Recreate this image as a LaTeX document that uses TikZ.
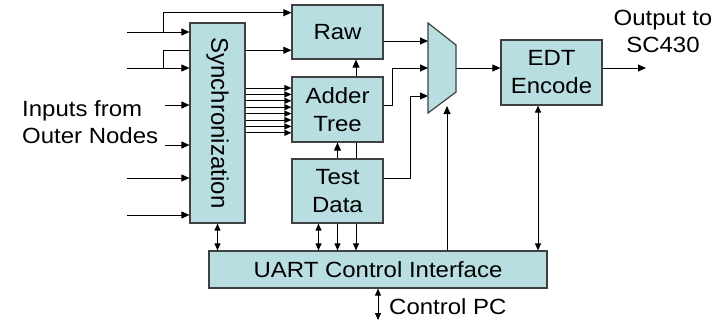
\documentclass[tikz,border=0pt]{standalone}
\usepackage{graphicx}
\usepackage{fontspec}
\setmainfont{Liberation Sans}[FakeStretch=1.09]
\newfontfamily\vertfont{Liberation Sans}
\usepackage{tikz}
\usetikzlibrary{calc}
\usetikzlibrary{arrows.meta}
\usetikzlibrary{backgrounds}
\definecolor{colbox}{RGB}{184,222,226}
\colorlet{colborder}{black!75}
\colorlet{colwire}{black}
\tikzstyle{block}=[draw=colborder, fill=colbox, line width=1.2pt, inner sep=0pt, align=center, font=\fontsize{22}{28}\selectfont]
\tikzstyle{wire}=[line width=0.9pt, colwire]
\tikzstyle{arrow}=[wire, -{Triangle[length=8pt,width=7pt]}]
\tikzstyle{bus}=[wire, -{Triangle[length=7pt,width=6pt]}]
\tikzstyle{twoway}=[wire, {Triangle[length=7pt,width=6pt]}-{Triangle[length=7pt,width=6pt]}]
\tikzstyle{labelsty}=[inner sep=0pt, align=left, font=\fontsize{22}{27}\selectfont]

\begin{document}
\begin{tikzpicture}[x=1pt,y=-1pt]
  \useasboundingbox (0,0) rectangle (714,327);

  % blocks
  \node[block, minimum width=55pt, minimum height=200pt] (sync) at (217.5,123)
    {\rotatebox{-90}{\vertfont\fontsize{24}{29}\selectfont Synchronization}};
  \node[block, minimum width=91pt, minimum height=54pt] (raw) at (337.5,32) {Raw};
  \node[block, minimum width=91pt, minimum height=65pt] (adder) at (337.5,109.5) {Adder\\Tree};
  \node[block, minimum width=91pt, minimum height=64pt] (test) at (337.5,191) {Test\\Data};
  \node[block, minimum width=101pt, minimum height=65pt] (edt) at (551.5,72.5) {EDT\\Encode};
  \node[block, minimum width=338pt, minimum height=37pt] (uart) at (378,269.5) {UART Control Interface};

  % multiplexer
  \coordinate (mtl) at (428,23);
  \coordinate (mtr) at (456,45);
  \coordinate (mbr) at (456,92);
  \coordinate (mbl) at (428,113);
  \draw[draw=colborder, fill=colbox, line width=1.2pt] (mtl) -- (mtr) -- (mbr) -- (mbl) -- cycle;
  \coordinate (m1) at (428,41);
  \coordinate (m2) at (428,68);
  \coordinate (m3) at (428,96);
  \coordinate (msel) at (447,106);
  \coordinate (mout) at (456,68);

  % inputs from outer nodes
  \node[labelsty, anchor=west] (inlbl) at (22,122) {Inputs from\\Outer Nodes};
  \coordinate (in1) at (127,32);
  \coordinate (in2) at (127,68);
  \coordinate (in3) at (165,105);
  \coordinate (in4) at (165,145);
  \coordinate (in5) at (127,178);
  \coordinate (in6) at (127,215);
  \foreach \n in {in1,in2,in3,in4,in5,in6}
    \draw[arrow] (\n) -- (\n -| sync.west);

  % bypass to raw
  \coordinate (sp1) at (163,32);
  \coordinate (sp2) at (163,68);
  \draw[arrow] (sp1) |- ($(raw.north west)!0.15!(raw.south west)$);
  \begin{pgfonlayer}{background}
    \draw[arrow] (sp2) |- ($(raw.north west)!0.83!(raw.south west)$);
  \end{pgfonlayer}

  % sync to adder tree
  \foreach \i in {0,...,7}
    \draw[bus] (sync.east |- 0,88+6.4*\i) -- (adder.west |- 0,88+6.4*\i);

  % into the mux
  \draw[arrow] (raw.east |- m1) -- (m1);
  \draw[arrow] (adder.east |- 0,105) -- ++(9,0) |- (m2);
  \draw[arrow] (test.east |- 0,178) -- ++(27,0) |- (m3);
  \draw[arrow] (mout) -- (edt.west |- mout);

  % between blocks
  \draw[arrow] ([xshift=18.5pt]adder.north) -- ([xshift=18.5pt]raw.south);
  \draw[arrow] (test.north) -- (adder.south);
  \draw[wire] ([xshift=18.5pt]test.north) -- ([xshift=18.5pt]adder.south);

  % control interface
  \draw[twoway] (sync.south) -- (sync.south |- uart.north);
  \draw[twoway] ([xshift=-19pt]test.south) -- ([xshift=-19pt]test.south |- uart.north);
  \draw[bus] (test.south) -- (test.south |- uart.north);
  \draw[bus] ([xshift=18.5pt]test.south) -- ([xshift=18.5pt]test.south |- uart.north);
  \draw[arrow] (uart.north -| msel) -- (msel);
  \draw[twoway] ([xshift=-13.5pt]edt.south) -- ([xshift=-13.5pt]edt.south |- uart.north);

  % output and control pc
  \coordinate (out) at (646,68);
  \draw[arrow] (edt.east |- out) -- (out);
  \node[labelsty, align=center] (outlbl) at (663,31) {Output to\\SC430};
  \coordinate (pc) at (378,320);
  \draw[twoway] (uart.south) -- (pc);
  \node[labelsty, anchor=west] (pclbl) at (389,307) {Control PC};
\end{tikzpicture}
\end{document}
